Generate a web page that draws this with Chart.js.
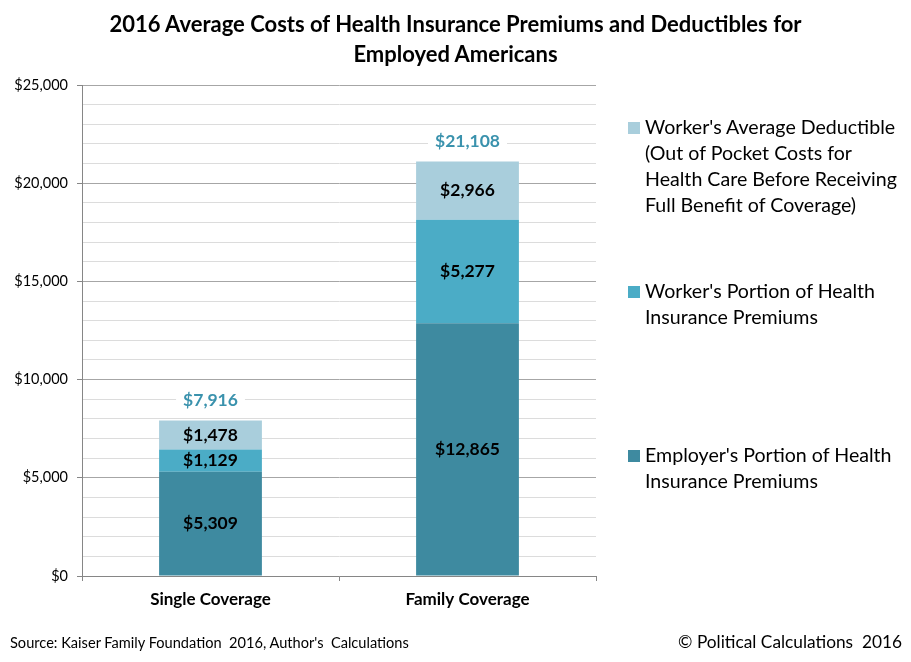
<!DOCTYPE html>
<html>
<head>
<meta charset="utf-8">
<script src="https://cdn.jsdelivr.net/npm/chart.js@4"></script>
<style>
  body { margin: 0; background: #fff; font-family: Lato, "Open Sans", sans-serif; }
  #wrap { position: relative; width: 911px; height: 662px; }
  #grafico { position: absolute; left: 0; top: 0; }
  #titulo { position: absolute; left: 0; width: 911px; top: 9px; text-align: center;
    font-weight: bold; font-size: 22px; line-height: 30px; color: #000; }
  #legenda { position: absolute; left: 625px; top: 114px; font-size: 19.6px; line-height: 26px; color: #000; }
  .item { position: absolute; left: 0; width: 290px; padding-left: 20px; white-space: nowrap; }
  .caixa { position: absolute; left: 3px; top: 8px; width: 12px; height: 12px; }
  #fonte { position: absolute; left: 10px; top: 634px; font-size: 14.6px; color: #000; }
  #copy { position: absolute; right: 9px; top: 631px; font-size: 17.3px; color: #000; }
</style>
</head>
<body>
<div id="wrap">
  <canvas id="grafico" width="911" height="662"></canvas>
  <div id="titulo">2016 Average Costs of Health Insurance Premiums and Deductibles for<br>Employed Americans</div>
  <div id="legenda"></div>
  <div id="fonte">Source: Kaiser Family Foundation&nbsp; 2016, Author's&nbsp; Calculations</div>
  <div id="copy">© Political Calculations&nbsp; 2016</div>
</div>
<script>
// dados
const categorias = ["Single Coverage", "Family Coverage"];
const empregador = [5309, 12865];
const premioTrabalhador = [1129, 5277];
const franquia = [1478, 2966];
const totais = [7916, 21108];

const nomesSeries = [
  "Employer's Portion of Health Insurance Premiums",
  "Worker's Portion of Health Insurance Premiums",
  "Worker's Average Deductible (Out of Pocket Costs for Health Care Before Receiving Full Benefit of Coverage)"
];
const cores = ["#3e8aa0", "#4bacc6", "#a9cedc"];

function dinheiro(v) {
  return "$" + v.toLocaleString("en-US");
}

// rótulos dentro das barras e totais em cima
const rotulos = {
  id: "rotulos",
  afterDatasetsDraw(chart) {
    const ctx = chart.ctx;
    ctx.save();
    ctx.textAlign = "center";
    ctx.textBaseline = "middle";
    ctx.font = "bold 17.5px Lato, sans-serif";
    chart.data.datasets.forEach((ds, i) => {
      chart.getDatasetMeta(i).data.forEach((bar, j) => {
        const meio = (bar.y + bar.base) / 2;
        ctx.fillStyle = "#000";
        ctx.fillText(dinheiro(ds.data[j]), bar.x, meio);
      });
    });
    const topo = chart.getDatasetMeta(2).data;
    totais.forEach((t, j) => {
      const x = topo[j].x;
      const y = chart.scales.y.getPixelForValue(t) - 20;
      const txt = dinheiro(t);
      const w = ctx.measureText(txt).width + 14;
      ctx.fillStyle = "#fff";
      ctx.fillRect(x - w / 2, y - 10, w, 20);
      ctx.fillStyle = "#3a92ad";
      ctx.fillText(txt, x, y);
    });
    ctx.restore();
  }
};

const ctx = document.getElementById("grafico").getContext("2d");
window.graficoCustos = new Chart(ctx, {
  type: "bar",
  data: {
    labels: categorias,
    datasets: [
      { label: nomesSeries[0], data: empregador, backgroundColor: cores[0] },
      { label: nomesSeries[1], data: premioTrabalhador, backgroundColor: cores[1] },
      { label: nomesSeries[2], data: franquia, backgroundColor: cores[2] }
    ]
  },
  options: {
    responsive: false,
    animation: false,
    layout: { padding: { left: 0, right: 315, top: 85, bottom: 46 } },
    datasets: { bar: { barPercentage: 1, categoryPercentage: 0.4 } },
    plugins: { legend: { display: false }, tooltip: { enabled: false } },
    scales: {
      x: {
        stacked: true,
        afterFit(s) { s.height = 40; },
        grid: { offset: true, drawOnChartArea: false, tickLength: 5, color: "#868686" },
        border: { color: "#868686" },
        ticks: { color: "#000", font: { family: "Lato, sans-serif", size: 17, weight: "bold" }, padding: 8 }
      },
      y: {
        stacked: true,
        min: 0,
        max: 25000,
        afterFit(s) { s.width = 82; },
        border: { color: "#868686" },
        grid: {
          color: c => (c.tick && c.tick.value % 5000 === 0) ? "#a6a6a6" : "#dcdcdc",
          tickColor: c => (c.tick && c.tick.value % 5000 === 0) ? "#868686" : "rgba(0,0,0,0)",
          tickLength: 5
        },
        ticks: {
          stepSize: 1000,
          autoSkip: false,
          color: "#000",
          padding: 9,
          font: { family: "Lato, sans-serif", size: 14.5 },
          callback: v => v % 5000 === 0 ? dinheiro(v) : ""
        }
      }
    }
  },
  plugins: [rotulos]
});

// legenda na direita
const legenda = document.getElementById("legenda");
const linhasLegenda = [
  ["Worker's Average Deductible", "(Out of Pocket Costs for", "Health Care Before Receiving", "Full Benefit of Coverage)"],
  ["Worker's Portion of Health", "Insurance Premiums"],
  ["Employer's Portion of Health", "Insurance Premiums"]
];
const topos = [0, 164, 328];
const ordemCores = [cores[2], cores[1], cores[0]];
linhasLegenda.forEach((linhas, i) => {
  const item = document.createElement("div");
  item.className = "item";
  item.style.top = topos[i] + "px";
  item.innerHTML = `<span class="caixa" style="background:${ordemCores[i]}"></span>${linhas.join("<br>")}`;
  legenda.appendChild(item);
});
</script>
</body>
</html>
